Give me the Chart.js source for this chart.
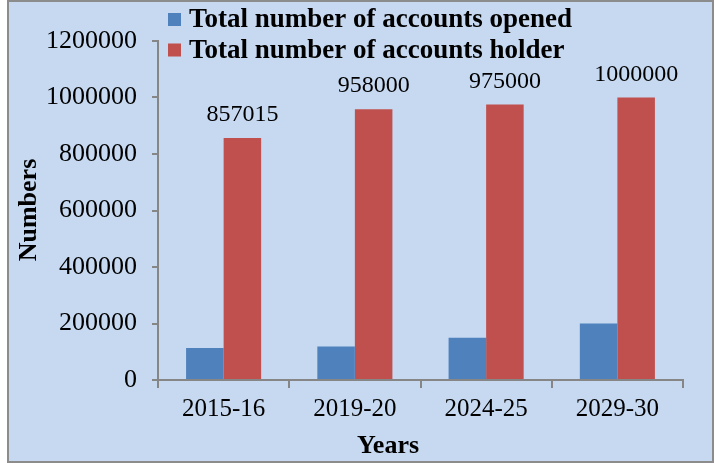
<!DOCTYPE html>
<html>
<head>
<meta charset="utf-8">
<script src="https://cdn.jsdelivr.net/npm/chart.js@4/dist/chart.umd.min.js"></script>
<style>
  html, body { margin: 0; padding: 0; background: #ffffff; }
  #wrap { width: 715px; height: 463px; }
</style>
</head>
<body>
<div id="wrap"><canvas id="c" width="715" height="463"></canvas></div>
<script>
const categories = ["2015-16", "2019-20", "2024-25", "2029-30"];
const seriesNames = ["Total number of accounts opened", "Total number of accounts holder"];
const accountsOpened = [113000, 119000, 150000, 200000];
const accountsHolder = [857015, 958000, 975000, 1000000];
const yTicks = [0, 200000, 400000, 600000, 800000, 1000000, 1200000];
const xTitle = "Years";
const yTitle = "Numbers";

const SERIF = "'Liberation Serif', 'Times New Roman', serif";
const BG = '#c6d9f1';
const AXIS = '#868686';

const framePlugin = {
  id: 'frame',
  beforeDraw(chart) {
    const ctx = chart.ctx;
    ctx.save();
    ctx.fillStyle = '#ffffff';
    ctx.fillRect(0, 0, chart.width, chart.height);
    ctx.fillStyle = BG;
    ctx.fillRect(8, 1, 705, 461);
    ctx.strokeStyle = '#8c8c8c';
    ctx.lineWidth = 2;
    ctx.strokeRect(8, 1, 705, 461);
    ctx.restore();
  }
};

const extrasPlugin = {
  id: 'extras',
  afterDatasetsDraw(chart) {
    const ctx = chart.ctx;
    ctx.save();
    // data labels on the holder series
    const meta = chart.getDatasetMeta(1);
    ctx.fillStyle = '#000';
    ctx.font = "24px " + SERIF;
    ctx.textAlign = 'center';
    ctx.textBaseline = 'alphabetic';
    meta.data.forEach((bar, i) => {
      ctx.fillText(String(chart.data.datasets[1].data[i]), bar.x, bar.y - 17);
    });
    // legend
    ctx.font = "bold 27px " + SERIF;
    ctx.textAlign = 'left';
    chart.data.datasets.forEach((ds, i) => {
      const top = 13 + i * 30.5;
      ctx.fillStyle = ds.backgroundColor;
      ctx.fillRect(168, top, 13, 13);
      ctx.fillStyle = '#000';
      ctx.fillText(ds.label, 189, top + 14);
    });
    // axis titles
    ctx.font = "bold 26px " + SERIF;
    ctx.textAlign = 'center';
    ctx.textBaseline = 'middle';
    ctx.fillText(xTitle, 388, 446);
    ctx.translate(28, 210);
    ctx.rotate(-Math.PI / 2);
    ctx.fillText(yTitle, 0, 1);
    ctx.restore();
  }
};

new Chart(document.getElementById('c'), {
  type: 'bar',
  data: {
    labels: categories,
    datasets: [
      { label: seriesNames[0], data: accountsOpened, backgroundColor: '#4f81bd', borderWidth: 0 },
      { label: seriesNames[1], data: accountsHolder, backgroundColor: '#c0504d', borderWidth: 0 }
    ]
  },
  options: {
    responsive: false,
    animation: false,
    devicePixelRatio: 1,
    layout: { padding: { top: 41, right: 32, left: 0, bottom: 0 } },
    plugins: {
      legend: { display: false },
      tooltip: { enabled: false },
      title: { display: false }
    },
    datasets: { bar: { categoryPercentage: 0.572, barPercentage: 1.0 } },
    scales: {
      x: {
        grid: { display: true, drawOnChartArea: false, drawTicks: true, tickLength: 8, color: AXIS, lineWidth: 2, offset: true },
        border: { display: true, color: AXIS, width: 2 },
        ticks: { color: '#000', font: { family: SERIF, size: 25 }, padding: 6, maxRotation: 0 },
        afterFit(scale) { scale.height = 83; }
      },
      y: {
        min: 0,
        max: 1200000,
        afterBuildTicks(scale) { scale.ticks = yTicks.map(v => ({ value: v })); },
        grid: { display: true, drawOnChartArea: false, drawTicks: true, tickLength: 6, color: AXIS, lineWidth: 2 },
        border: { display: true, color: AXIS, width: 2 },
        ticks: { color: '#000', font: { family: SERIF, size: 26 }, padding: 15, callback: v => String(v) },
        afterFit(scale) { scale.width = 158; }
      }
    }
  },
  plugins: [framePlugin, extrasPlugin]
});
</script>
</body>
</html>
